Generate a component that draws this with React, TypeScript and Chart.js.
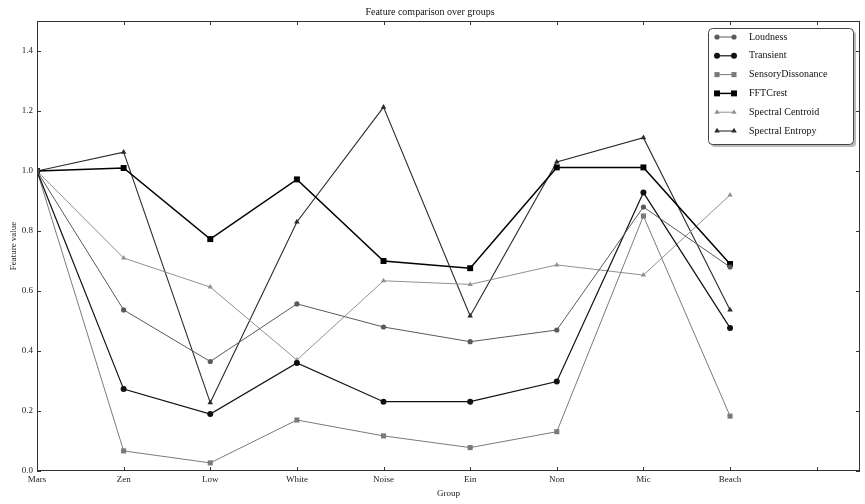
import { useEffect, useRef } from 'react';
import { Chart, registerables } from 'chart.js';

Chart.register(...registerables);

const categories = ['Mars', 'Zen', 'Low', 'White', 'Noise', 'Ein', 'Non', 'Mic', 'Beach'];
const xTickValues = [0, 1, 2, 3, 4, 5, 6, 7, 8, 9];
const yTickValues = [0, 0.2, 0.4, 0.6, 0.8, 1.0, 1.2, 1.4];

const loudness = [1.0, 0.537, 0.365, 0.557, 0.48, 0.431, 0.47, 0.88, 0.68];
const transient = [1.0, 0.273, 0.19, 0.36, 0.231, 0.231, 0.298, 0.928, 0.477];
const sensoryDissonance = [1.0, 0.067, 0.027, 0.17, 0.117, 0.078, 0.131, 0.85, 0.183];
const fftCrest = [1.0, 1.01, 0.773, 0.972, 0.70, 0.676, 1.012, 1.012, 0.69];
const spectralCentroid = [1.0, 0.71, 0.613, 0.37, 0.634, 0.622, 0.687, 0.653, 0.92];
const spectralEntropy = [1.0, 1.063, 0.228, 0.83, 1.213, 0.517, 1.03, 1.111, 0.537];

const FONT = "'Liberation Serif', 'DejaVu Serif', serif";

type Shape = 'circle' | 'rect' | 'triangle';

function drawMarker(ctx: CanvasRenderingContext2D, shape: Shape, x: number, y: number, r: number) {
  ctx.beginPath();
  if (shape === 'circle') {
    ctx.arc(x, y, r, 0, Math.PI * 2);
  } else if (shape === 'rect') {
    const s = Math.SQRT1_2 * r;
    ctx.rect(x - s, y - s, 2 * s, 2 * s);
  } else {
    ctx.moveTo(x, y - r);
    ctx.lineTo(x - r * 0.866, y + r * 0.5);
    ctx.lineTo(x + r * 0.866, y + r * 0.5);
    ctx.closePath();
  }
  ctx.fill();
}

export default function App() {
  const ref = useRef<HTMLCanvasElement>(null);

  useEffect(() => {
    if (!ref.current) return;
    const series: { label: string; data: number[]; color: string; shape: Shape; r: number; w: number }[] = [
      { label: 'Loudness', data: loudness, color: '#5a5a5a', shape: 'circle', r: 2.6, w: 1 },
      { label: 'Transient', data: transient, color: '#111111', shape: 'circle', r: 3, w: 1.2 },
      { label: 'SensoryDissonance', data: sensoryDissonance, color: '#7a7a7a', shape: 'rect', r: 3.6, w: 1 },
      { label: 'FFTCrest', data: fftCrest, color: '#000000', shape: 'rect', r: 4.2, w: 1.5 },
      { label: 'Spectral Centroid', data: spectralCentroid, color: '#909090', shape: 'triangle', r: 3, w: 1 },
      { label: 'Spectral Entropy', data: spectralEntropy, color: '#2a2a2a', shape: 'triangle', r: 3.2, w: 1.1 },
    ];

    const framePlugin = {
      id: 'frameAndLegend',
      afterDatasetsDraw(chart: any) {
        const { ctx, chartArea } = chart;
        const { left, right, top, bottom } = chartArea;
        const xs = chart.scales.x;
        const ys = chart.scales.y;
        ctx.save();
        ctx.strokeStyle = '#333';
        ctx.lineWidth = 1;
        ctx.strokeRect(left + 0.5, top + 0.5, right - left - 1, bottom - top - 1);
        ctx.beginPath();
        xTickValues.forEach((v) => {
          const px = Math.round(xs.getPixelForValue(v)) + 0.5;
          ctx.moveTo(px, bottom);
          ctx.lineTo(px, bottom - 4);
          ctx.moveTo(px, top);
          ctx.lineTo(px, top + 4);
        });
        yTickValues.forEach((v) => {
          const py = Math.round(ys.getPixelForValue(v)) + 0.5;
          ctx.moveTo(left, py);
          ctx.lineTo(left + 4, py);
          ctx.moveTo(right, py);
          ctx.lineTo(right - 4, py);
        });
        ctx.stroke();

        // legend
        const bw = 145;
        const bh = 116;
        const bx = right - 7 - bw;
        const by = top + 7;
        ctx.fillStyle = 'rgba(120,120,120,0.5)';
        ctx.beginPath();
        (ctx as any).roundRect(bx + 3, by + 3, bw, bh, 4);
        ctx.fill();
        ctx.fillStyle = '#ffffff';
        ctx.strokeStyle = '#444';
        ctx.beginPath();
        (ctx as any).roundRect(bx + 0.5, by + 0.5, bw, bh, 4);
        ctx.fill();
        ctx.stroke();
        ctx.font = `10px ${FONT}`;
        ctx.textBaseline = 'middle';
        ctx.textAlign = 'left';
        series.forEach((s, i) => {
          const y = by + 9 + i * 18.8;
          const x0 = bx + 9;
          const x1 = bx + 26;
          ctx.strokeStyle = s.color;
          ctx.fillStyle = s.color;
          ctx.lineWidth = s.w;
          ctx.beginPath();
          ctx.moveTo(x0, y);
          ctx.lineTo(x1, y);
          ctx.stroke();
          drawMarker(ctx, s.shape, x0, y, s.r);
          drawMarker(ctx, s.shape, x1, y, s.r);
          ctx.fillStyle = '#111';
          ctx.fillText(s.label, bx + 41, y);
        });
        ctx.restore();
      },
    };

    const chart = new Chart(ref.current, {
      type: 'line',
      data: {
        datasets: series.map((s) => ({
          label: s.label,
          data: s.data.map((v, i) => ({ x: i, y: v })),
          borderColor: s.color,
          backgroundColor: s.color,
          borderWidth: s.w,
          pointStyle: s.shape,
          pointRadius: s.r,
          pointBorderWidth: 0,
          pointHoverRadius: s.r,
          tension: 0,
          fill: false,
        })),
      },
      options: {
        animation: false,
        responsive: false,
        devicePixelRatio: 1,
        layout: { padding: { left: 0, right: 5, top: 0, bottom: 0 } },
        plugins: {
          legend: { display: false },
          tooltip: { enabled: false },
          title: {
            display: true,
            text: 'Feature comparison over groups',
            color: '#111',
            font: { family: FONT, size: 10, weight: 'normal' },
            padding: { top: 6, bottom: 3 },
          },
        },
        scales: {
          x: {
            type: 'linear',
            min: 0,
            max: 9.5,
            grid: { display: false, drawTicks: false },
            border: { display: false },
            afterBuildTicks: (scale: any) => {
              scale.ticks = xTickValues.map((v) => ({ value: v }));
            },
            afterFit: (scale: any) => {
              scale.height = 33;
            },
            ticks: {
              autoSkip: false,
              maxRotation: 0,
              padding: 3,
              color: '#222',
              font: { family: FONT, size: 9 },
              callback: (v: any) => categories[Number(v)] ?? '',
            },
            title: {
              display: true,
              text: 'Group',
              color: '#222',
              font: { family: FONT, size: 9 },
              padding: { top: 0, bottom: 5 },
            },
          },
          y: {
            type: 'linear',
            min: 0,
            max: 1.5,
            grid: { display: false, drawTicks: false },
            border: { display: false },
            afterBuildTicks: (scale: any) => {
              scale.ticks = yTickValues.map((v) => ({ value: v }));
            },
            afterFit: (scale: any) => {
              scale.width = 37;
            },
            ticks: {
              padding: 4,
              color: '#222',
              font: { family: FONT, size: 9 },
              callback: (v: any) => Number(v).toFixed(1),
            },
            title: {
              display: true,
              text: 'Feature value',
              color: '#222',
              font: { family: FONT, size: 9 },
              padding: { top: 8, bottom: 0 },
            },
          },
        },
      },
      plugins: [framePlugin],
    } as any);

    return () => chart.destroy();
  }, []);

  return (
    <div style={{ position: 'absolute', left: 0, top: 0, width: 865, height: 504, background: '#fff' }}>
      <canvas ref={ref} width={865} height={504} style={{ width: 865, height: 504, display: 'block' }} />
    </div>
  );
}
